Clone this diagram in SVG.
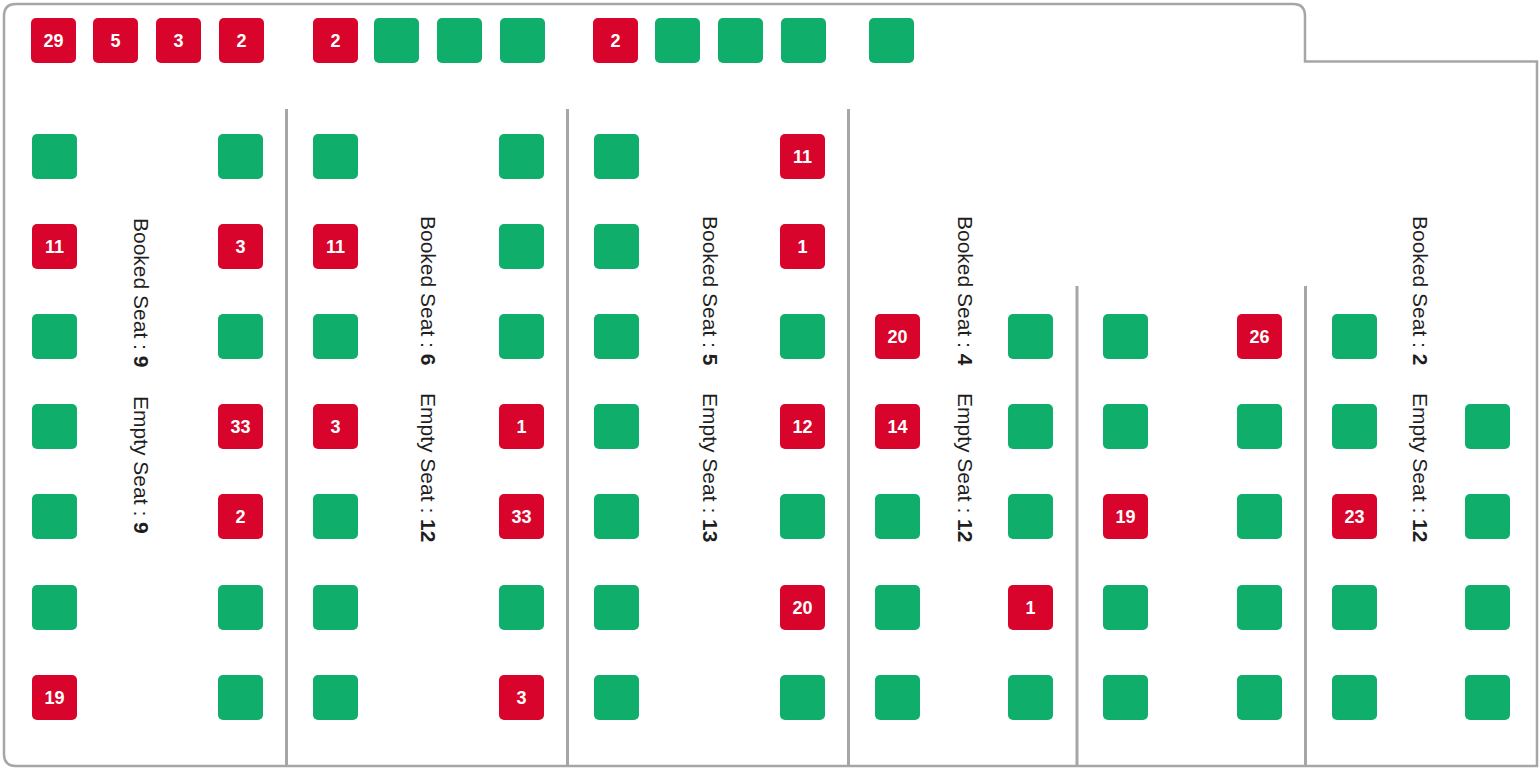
<svg xmlns="http://www.w3.org/2000/svg" width="1539" height="769" viewBox="0 0 1539 769">
<style>
.s rect{width:45px;height:45px}
.r rect{fill:#d9042b}
.g rect{fill:#0fae6b}
.s text{font-family:"Liberation Sans",Arial,sans-serif;font-weight:bold;font-size:18px;fill:#ffffff;text-anchor:middle}
.frame{fill:#ffffff;stroke:#a6a6a6;stroke-width:2.5}
.div{stroke:#a6a6a6;stroke-width:3}
.lbl{font-family:"Liberation Sans",Arial,sans-serif;font-size:21px;fill:#1f1f1f}
.lbl tspan.b{font-weight:bold}
</style>
<rect width="1539" height="769" fill="#ffffff"/>
<path class="frame" d="M4,16 Q4,4 16,4 L1293,4 Q1305,4 1305,16 L1305,61.5 L1537,61.5 L1537,766 L16,766 Q4,766 4,754 Z"/>
<g id="dividers">
<line class="div" x1="286.5" y1="109" x2="286.5" y2="766"/>
<line class="div" x1="567.5" y1="109" x2="567.5" y2="766"/>
<line class="div" x1="848.5" y1="109" x2="848.5" y2="766"/>
<line class="div" x1="1077" y1="286" x2="1077" y2="766"/>
<line class="div" x1="1305.5" y1="286" x2="1305.5" y2="766"/>
</g>
<g id="top-row">
<g id="t1" class="s r"><rect x="31" y="18" rx="5"/><text x="53.5" y="47">29</text></g>
<g id="t2" class="s r"><rect x="93" y="18" rx="5"/><text x="115.5" y="47">5</text></g>
<g id="t3" class="s r"><rect x="156" y="18" rx="5"/><text x="178.5" y="47">3</text></g>
<g id="t4" class="s r"><rect x="219" y="18" rx="5"/><text x="241.5" y="47">2</text></g>
<g id="t5" class="s r"><rect x="313" y="18" rx="5"/><text x="335.5" y="47">2</text></g>
<g id="t6" class="s g"><rect x="374" y="18" rx="5"/></g>
<g id="t7" class="s g"><rect x="437" y="18" rx="5"/></g>
<g id="t8" class="s g"><rect x="500" y="18" rx="5"/></g>
<g id="t9" class="s r"><rect x="593" y="18" rx="5"/><text x="615.5" y="47">2</text></g>
<g id="t10" class="s g"><rect x="655" y="18" rx="5"/></g>
<g id="t11" class="s g"><rect x="718" y="18" rx="5"/></g>
<g id="t12" class="s g"><rect x="781" y="18" rx="5"/></g>
<g id="t13" class="s g"><rect x="869" y="18" rx="5"/></g>
</g>
<g id="section1">
<g id="s1l1" class="s g"><rect x="32" y="134" rx="5"/></g>
<g id="s1l2" class="s r"><rect x="32" y="224" rx="5"/><text x="54.5" y="253">11</text></g>
<g id="s1l3" class="s g"><rect x="32" y="314" rx="5"/></g>
<g id="s1l4" class="s g"><rect x="32" y="404" rx="5"/></g>
<g id="s1l5" class="s g"><rect x="32" y="494" rx="5"/></g>
<g id="s1l6" class="s g"><rect x="32" y="585" rx="5"/></g>
<g id="s1l7" class="s r"><rect x="32" y="675" rx="5"/><text x="54.5" y="704">19</text></g>
<g id="s1r1" class="s g"><rect x="218" y="134" rx="5"/></g>
<g id="s1r2" class="s r"><rect x="218" y="224" rx="5"/><text x="240.5" y="253">3</text></g>
<g id="s1r3" class="s g"><rect x="218" y="314" rx="5"/></g>
<g id="s1r4" class="s r"><rect x="218" y="404" rx="5"/><text x="240.5" y="433">33</text></g>
<g id="s1r5" class="s r"><rect x="218" y="494" rx="5"/><text x="240.5" y="523">2</text></g>
<g id="s1r6" class="s g"><rect x="218" y="585" rx="5"/></g>
<g id="s1r7" class="s g"><rect x="218" y="675" rx="5"/></g>
<text class="lbl" transform="translate(133.5,218) rotate(90)">Booked Seat : <tspan class="b">9</tspan></text>
<text class="lbl" transform="translate(133.5,396) rotate(90)">Empty Seat : <tspan class="b">9</tspan></text>
</g>
<g id="section2">
<g id="s2l1" class="s g"><rect x="313" y="134" rx="5"/></g>
<g id="s2l2" class="s r"><rect x="313" y="224" rx="5"/><text x="335.5" y="253">11</text></g>
<g id="s2l3" class="s g"><rect x="313" y="314" rx="5"/></g>
<g id="s2l4" class="s r"><rect x="313" y="404" rx="5"/><text x="335.5" y="433">3</text></g>
<g id="s2l5" class="s g"><rect x="313" y="494" rx="5"/></g>
<g id="s2l6" class="s g"><rect x="313" y="585" rx="5"/></g>
<g id="s2l7" class="s g"><rect x="313" y="675" rx="5"/></g>
<g id="s2r1" class="s g"><rect x="499" y="134" rx="5"/></g>
<g id="s2r2" class="s g"><rect x="499" y="224" rx="5"/></g>
<g id="s2r3" class="s g"><rect x="499" y="314" rx="5"/></g>
<g id="s2r4" class="s r"><rect x="499" y="404" rx="5"/><text x="521.5" y="433">1</text></g>
<g id="s2r5" class="s r"><rect x="499" y="494" rx="5"/><text x="521.5" y="523">33</text></g>
<g id="s2r6" class="s g"><rect x="499" y="585" rx="5"/></g>
<g id="s2r7" class="s r"><rect x="499" y="675" rx="5"/><text x="521.5" y="704">3</text></g>
<text class="lbl" transform="translate(421,216) rotate(90)">Booked Seat : <tspan class="b">6</tspan></text>
<text class="lbl" transform="translate(421,393) rotate(90)">Empty Seat : <tspan class="b">12</tspan></text>
</g>
<g id="section3">
<g id="s3l1" class="s g"><rect x="594" y="134" rx="5"/></g>
<g id="s3l2" class="s g"><rect x="594" y="224" rx="5"/></g>
<g id="s3l3" class="s g"><rect x="594" y="314" rx="5"/></g>
<g id="s3l4" class="s g"><rect x="594" y="404" rx="5"/></g>
<g id="s3l5" class="s g"><rect x="594" y="494" rx="5"/></g>
<g id="s3l6" class="s g"><rect x="594" y="585" rx="5"/></g>
<g id="s3l7" class="s g"><rect x="594" y="675" rx="5"/></g>
<g id="s3r1" class="s r"><rect x="780" y="134" rx="5"/><text x="802.5" y="163">11</text></g>
<g id="s3r2" class="s r"><rect x="780" y="224" rx="5"/><text x="802.5" y="253">1</text></g>
<g id="s3r3" class="s g"><rect x="780" y="314" rx="5"/></g>
<g id="s3r4" class="s r"><rect x="780" y="404" rx="5"/><text x="802.5" y="433">12</text></g>
<g id="s3r5" class="s g"><rect x="780" y="494" rx="5"/></g>
<g id="s3r6" class="s r"><rect x="780" y="585" rx="5"/><text x="802.5" y="614">20</text></g>
<g id="s3r7" class="s g"><rect x="780" y="675" rx="5"/></g>
<text class="lbl" transform="translate(702.5,216) rotate(90)">Booked Seat : <tspan class="b">5</tspan></text>
<text class="lbl" transform="translate(702.5,393) rotate(90)">Empty Seat : <tspan class="b">13</tspan></text>
</g>
<g id="section4">
<g id="s4l3" class="s r"><rect x="875" y="314" rx="5"/><text x="897.5" y="343">20</text></g>
<g id="s4l4" class="s r"><rect x="875" y="404" rx="5"/><text x="897.5" y="433">14</text></g>
<g id="s4l5" class="s g"><rect x="875" y="494" rx="5"/></g>
<g id="s4l6" class="s g"><rect x="875" y="585" rx="5"/></g>
<g id="s4l7" class="s g"><rect x="875" y="675" rx="5"/></g>
<g id="s4r3" class="s g"><rect x="1008" y="314" rx="5"/></g>
<g id="s4r4" class="s g"><rect x="1008" y="404" rx="5"/></g>
<g id="s4r5" class="s g"><rect x="1008" y="494" rx="5"/></g>
<g id="s4r6" class="s r"><rect x="1008" y="585" rx="5"/><text x="1030.5" y="614">1</text></g>
<g id="s4r7" class="s g"><rect x="1008" y="675" rx="5"/></g>
<text class="lbl" transform="translate(957.5,216) rotate(90)">Booked Seat : <tspan class="b">4</tspan></text>
<text class="lbl" transform="translate(957.5,393) rotate(90)">Empty Seat : <tspan class="b">12</tspan></text>
</g>
<g id="section5">
<g id="s5l3" class="s g"><rect x="1103" y="314" rx="5"/></g>
<g id="s5l4" class="s g"><rect x="1103" y="404" rx="5"/></g>
<g id="s5l5" class="s r"><rect x="1103" y="494" rx="5"/><text x="1125.5" y="523">19</text></g>
<g id="s5l6" class="s g"><rect x="1103" y="585" rx="5"/></g>
<g id="s5l7" class="s g"><rect x="1103" y="675" rx="5"/></g>
<g id="s5r3" class="s r"><rect x="1237" y="314" rx="5"/><text x="1259.5" y="343">26</text></g>
<g id="s5r4" class="s g"><rect x="1237" y="404" rx="5"/></g>
<g id="s5r5" class="s g"><rect x="1237" y="494" rx="5"/></g>
<g id="s5r6" class="s g"><rect x="1237" y="585" rx="5"/></g>
<g id="s5r7" class="s g"><rect x="1237" y="675" rx="5"/></g>
</g>
<g id="section6">
<g id="s6l3" class="s g"><rect x="1332" y="314" rx="5"/></g>
<g id="s6l4" class="s g"><rect x="1332" y="404" rx="5"/></g>
<g id="s6l5" class="s r"><rect x="1332" y="494" rx="5"/><text x="1354.5" y="523">23</text></g>
<g id="s6l6" class="s g"><rect x="1332" y="585" rx="5"/></g>
<g id="s6l7" class="s g"><rect x="1332" y="675" rx="5"/></g>
<g id="s6r4" class="s g"><rect x="1465" y="404" rx="5"/></g>
<g id="s6r5" class="s g"><rect x="1465" y="494" rx="5"/></g>
<g id="s6r6" class="s g"><rect x="1465" y="585" rx="5"/></g>
<g id="s6r7" class="s g"><rect x="1465" y="675" rx="5"/></g>
<text class="lbl" transform="translate(1412.5,216) rotate(90)">Booked Seat : <tspan class="b">2</tspan></text>
<text class="lbl" transform="translate(1412.5,393) rotate(90)">Empty Seat : <tspan class="b">12</tspan></text>
</g>
</svg>
